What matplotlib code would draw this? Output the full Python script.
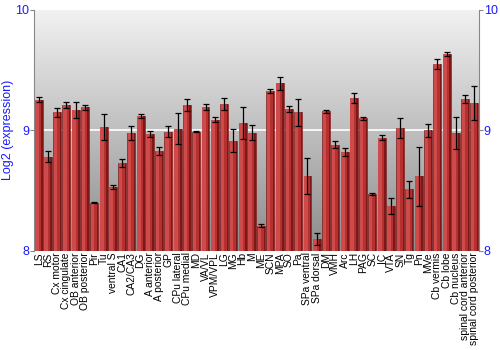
import numpy as np
import matplotlib
matplotlib.use("Agg")
import matplotlib.pyplot as plt

plt.rcParams['font.family'] = ['Liberation Sans', 'DejaVu Sans']

regions = ["LS", "RS", "Cx motor", "Cx cingulate", "OB anterior", "OB posterior",
           "Pir", "Tu", "ventral S", "CA1", "CA2/CA3", "DG", "A anterior",
           "A posterior", "GP", "CPu lateral", "CPu medial", "MD", "VA/VL",
           "VPM/VPL", "LG", "MG", "Hb", "M", "ME", "SCN", "MPA", "SO", "Pa",
           "SPa ventral", "SPa dorsal", "DM", "VMH", "Arc", "LH", "PAG", "SC",
           "IC", "VTA", "SN", "Tg", "Pn", "MVe", "Cb vermis", "Cb lobe",
           "Cb nucleus", "spinal cord anterior", "spinal cord posterior"]

expression = [9.255, 8.78, 9.15, 9.21, 9.17, 9.19,
              8.40, 9.03, 8.53, 8.73, 8.98, 9.12, 8.97,
              8.83, 8.99, 9.015, 9.21, 8.99, 9.195,
              9.09, 9.22, 8.915, 9.06, 8.98, 8.21, 9.33, 9.39, 9.18, 9.15,
              8.62, 8.10, 9.16, 8.88, 8.82, 9.27, 9.10, 8.47,
              8.94, 8.37, 9.02, 8.51, 8.62, 9.00, 9.55, 9.63,
              8.98, 9.26, 9.23]

err = [0.02, 0.045, 0.035, 0.024, 0.066, 0.02,
       0.005, 0.107, 0.015, 0.035, 0.058, 0.018, 0.026,
       0.032, 0.044, 0.126, 0.047, 0.005, 0.024,
       0.018, 0.048, 0.093, 0.133, 0.062, 0.01, 0.017, 0.055, 0.024, 0.11,
       0.147, 0.048, 0.012, 0.028, 0.03, 0.04, 0.012, 0.007,
       0.018, 0.066, 0.08, 0.07, 0.245, 0.054, 0.04, 0.017,
       0.135, 0.037, 0.14]

yticks = [8, 9, 10]

fig = plt.figure(figsize=(5, 3.5), dpi=100)
ax = fig.add_axes([0.068, 0.283, 0.89, 0.689])

x = np.arange(len(regions))
ax.set_xlim(-0.5, len(regions) - 0.5)
ax.set_ylim(8, 10)

# grey gradient background, dark at the bottom
grad = np.linspace(0, 1, 256).reshape(-1, 1)
cmap = matplotlib.colors.LinearSegmentedColormap.from_list("bg", ["#8c8c8c", "#f2f2f2"])
ax.imshow(grad, extent=(-0.5, len(regions) - 0.5, 8, 10), aspect='auto',
          cmap=cmap, zorder=0, origin='lower')
ax.axhline(9, color='white', lw=1.2, zorder=1)

base = 8
heights = np.array(expression) - base
w = 0.86
ax.bar(x, heights, bottom=base, width=w, color='#b73030', edgecolor='#6e1010',
       linewidth=0.4, zorder=2)
# lighter left part and dark right edge for a shaded look
ax.bar(x - w / 2 + 0.06, heights, bottom=base, width=0.38, align='edge',
       color='#cf4b4b', linewidth=0, zorder=3)
ax.bar(x + w / 2 - 0.16, heights, bottom=base, width=0.16, align='edge',
       color='#7d1818', linewidth=0, zorder=3)

ax.errorbar(x, expression, yerr=err, fmt='none', ecolor='black', elinewidth=0.9,
            capsize=2, capthick=0.9, zorder=4)

ax.set_xticks(x)
ax.set_xticklabels(regions, rotation=90, fontsize=7.4)
ax.tick_params(axis='x', length=0, pad=1)

ax.set_yticks(yticks)
ax.set_yticklabels([str(t) for t in yticks], fontsize=9)
ax.tick_params(axis='y', colors='#888888', labelcolor='#1a1aff', length=3,
               right=True, labelright=True, direction='out', pad=0.5)
ax.set_ylabel("Log2 (expression)", color='#1a1aff', fontsize=9, labelpad=1)

for s in ['top', 'bottom']:
    ax.spines[s].set_visible(False)
for s in ['left', 'right']:
    ax.spines[s].set_color('#888888')

fig.savefig("out.png", dpi=100)
